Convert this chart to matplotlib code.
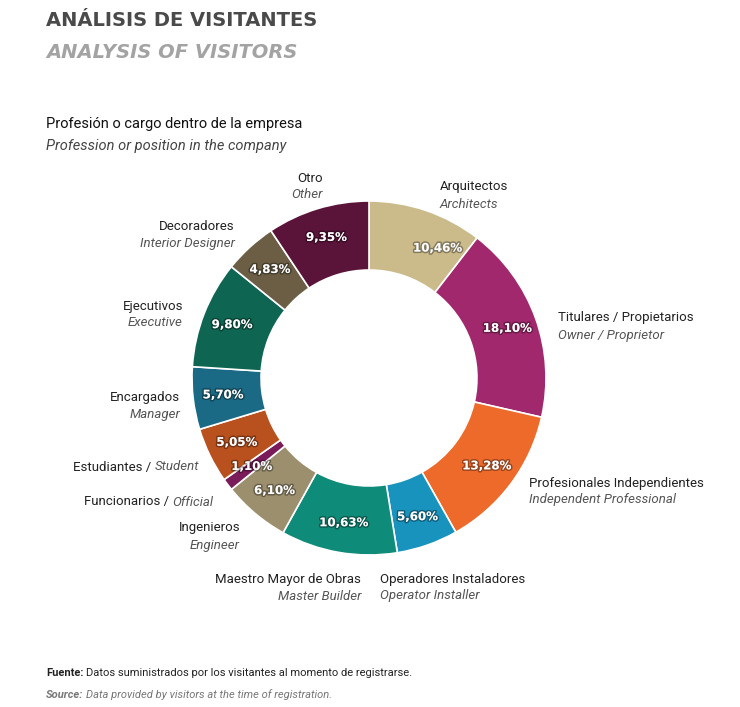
"""visitor profession donut"""

import matplotlib
matplotlib.use("Agg")
import matplotlib.pyplot as plt
import matplotlib.patheffects as pe
import numpy as np

plt.rcParams['font.family'] = ['Roboto', 'DejaVu Sans']
BOLD = ['DejaVu Sans']

# data, clockwise from 12 o'clock
categories_es = ['Arquitectos', 'Titulares / Propietarios', 'Profesionales Independientes',
                 'Operadores Instaladores', 'Maestro Mayor de Obras', 'Ingenieros',
                 'Funcionarios', 'Estudiantes', 'Encargados', 'Ejecutivos',
                 'Decoradores', 'Otro']
categories_en = ['Architects', 'Owner / Proprietor', 'Independent Professional',
                 'Operator Installer', 'Master Builder', 'Engineer',
                 'Official', 'Student', 'Manager', 'Executive',
                 'Interior Designer', 'Other']
shares = [10.46, 18.10, 13.28, 5.60, 10.63, 6.10, 1.10, 5.05, 5.70, 9.80, 4.83, 9.35]
colors = ['#cbbb8b', '#a2286e', '#ee6a2b', '#1893bd', '#0f8b79', '#9c8f6d',
          '#7a1c5a', '#b9511e', '#1a6985', '#0e6552', '#6b5e45', '#5a1339']

W, H = 740, 707
fig = plt.figure(figsize=(W / 100, H / 100), dpi=100)

def px(x, y):
    return x / W, 1 - y / H

# donut axes, centre (369, 378) px, radius 177 px
cx, cy, R = 369, 378, 177
ax = fig.add_axes([(cx - R) / W, (H - cy - R) / H, 2 * R / W, 2 * R / H])
wedges, _ = ax.pie(shares, colors=colors, startangle=90, counterclock=False,
                   radius=1.0, wedgeprops=dict(width=0.39, edgecolor='white', linewidth=1.2))
ax.set_xlim(-1, 1)
ax.set_ylim(-1, 1)
ax.set_aspect('equal')
ax.axis('off')

# percent labels in the ring
shadow = [pe.withStroke(linewidth=2.2, foreground=(0, 0, 0, 0.35))]
nudge = {0: 9}  # degrees, Arquitectos label sits off-centre
for i, w in enumerate(wedges):
    ang = (w.theta1 + w.theta2) / 2 - nudge.get(i, 0)
    r = 0.83
    x, y = r * np.cos(np.radians(ang)), r * np.sin(np.radians(ang))
    ax.text(x, y, f'{shares[i]:.2f}%'.replace('.', ','), ha='center', va='center',
            color='white', fontsize=8.5, fontweight='bold', family=BOLD, path_effects=shadow)

# category labels (es on top, en below in italics)
label_pos = [(440, 187, 'left'), (558, 318, 'left'), (529, 483, 'left'),
             (380, 579, 'left'), (361, 579, 'right'), (240, 528, 'right'),
             (213, 502, 'right'), (199, 467, 'right'), (180, 398, 'right'),
             (183, 306, 'right'), (235, 227, 'right'), (323, 178, 'right')]
fig.canvas.draw()
rend = fig.canvas.get_renderer()
for i, (x, y, ha) in enumerate(label_pos):
    if categories_es[i] in ('Estudiantes', 'Funcionarios'):
        t = fig.text(*px(x, y), categories_en[i], ha=ha, va='center', fontsize=9.5,
                     color='#555555', style='italic')
        bb = t.get_window_extent(renderer=rend)
        fig.text((bb.x0 - 3) / W, 1 - y / H, categories_es[i] + ' /', ha='right', va='center',
                 fontsize=9.5, color='#222222')
        continue
    fig.text(*px(x, y), categories_es[i], ha=ha, va='center', fontsize=9.5, color='#222222')
    fig.text(*px(x, y + 17), categories_en[i], ha=ha, va='center', fontsize=9.5,
             color='#555555', style='italic')

# titles
fig.text(*px(46, 20), 'ANÁLISIS DE VISITANTES', ha='left', va='center', fontsize=14,
         fontweight='bold', family=BOLD, color='#4a4a4a')
fig.text(*px(46, 53), 'ANALYSIS OF VISITORS', ha='left', va='center', fontsize=14,
         fontweight='bold', style='italic', family=BOLD, color='#a3a3a3')
fig.text(*px(46, 124), 'Profesión o cargo dentro de la empresa', ha='left', va='center',
         fontsize=10.5, color='#111111')
fig.text(*px(46, 146), 'Profession or position in the company', ha='left', va='center',
         fontsize=10.5, style='italic', color='#444444')

# source note
t = fig.text(*px(46, 673), 'Fuente:', ha='left', va='center', fontsize=8, fontweight='bold',
             color='#222222')
bb = t.get_window_extent(renderer=rend)
fig.text((bb.x1 + 3) / W, 1 - 673 / H, 'Datos suministrados por los visitantes al momento de registrarse.',
         ha='left', va='center', fontsize=8, color='#222222')
t = fig.text(*px(46, 695), 'Source:', ha='left', va='center', fontsize=8, fontweight='bold',
             style='italic', color='#777777')
bb = t.get_window_extent(renderer=rend)
fig.text((bb.x1 + 3) / W, 1 - 695 / H, 'Data provided by visitors at the time of registration.',
         ha='left', va='center', fontsize=8, style='italic', color='#777777')

fig.savefig('out.png', dpi=100)
